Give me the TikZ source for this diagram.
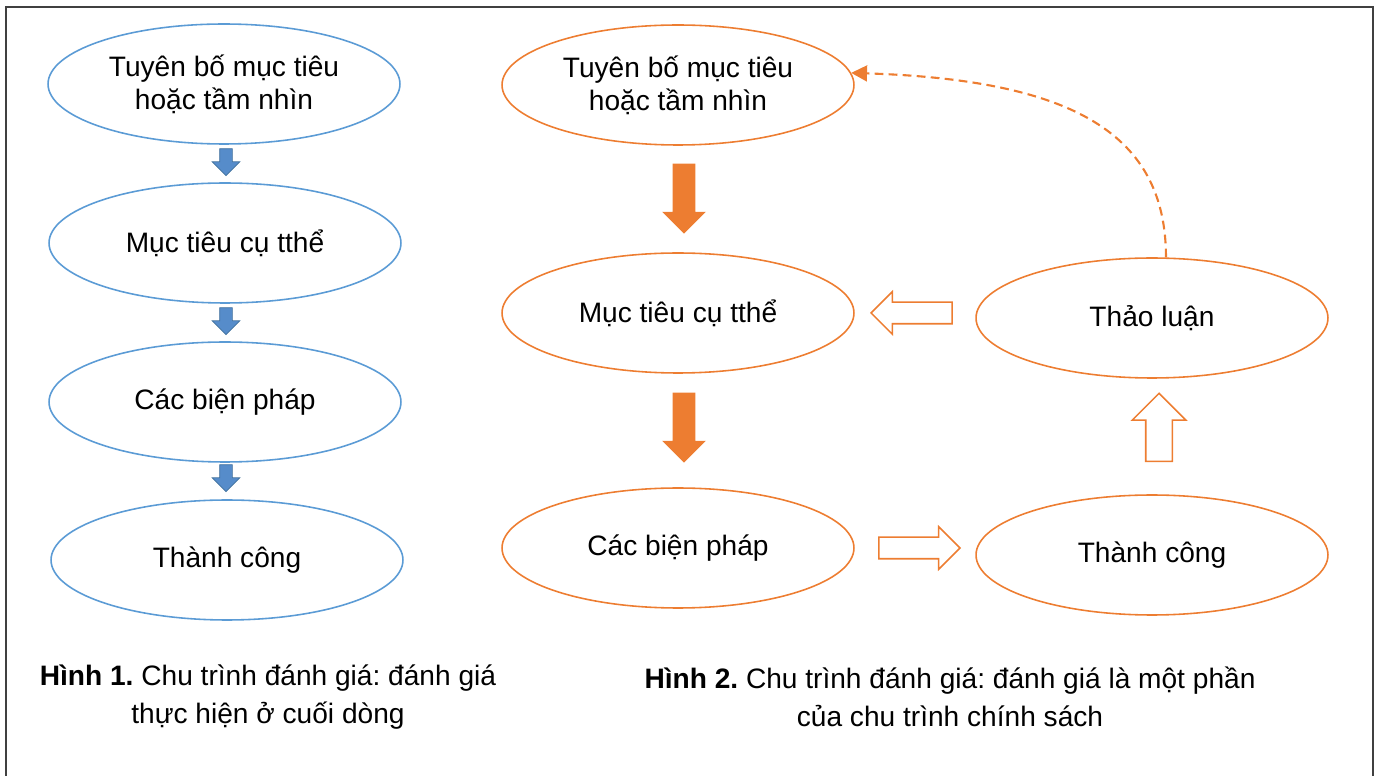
\documentclass[tikz,border=0pt]{standalone}
\usepackage{fontspec}
\setmainfont{Liberation Sans}
\frenchspacing
\usepackage{xcolor}
\usepackage{tikz}
\usetikzlibrary{shapes.geometric, shapes.arrows, arrows.meta, positioning}

\definecolor{ellblue}{RGB}{91,155,213}
\definecolor{arrblue}{RGB}{86,140,202}
\definecolor{arrblueline}{RGB}{65,113,156}
\definecolor{ellorange}{RGB}{237,125,49}
\definecolor{framegray}{RGB}{64,64,64}

\begin{document}
\begin{tikzpicture}[x=0.02cm, y=-0.02cm,
  ell/.style={ellipse, line width=0.9pt, minimum width=7.04cm, minimum height=2.4cm, inner sep=0pt, align=center, font=\fontsize{16}{18.7}\selectfont},
  blueell/.style={ell, draw=ellblue},
  orangeell/.style={ell, draw=ellorange},
  bluearrow/.style={single arrow, rotate=-90, inner xsep=0pt, inner ysep=0.12cm, minimum width=0pt, minimum height=0.54cm, single arrow head extend=0.15cm, fill=arrblue, draw=arrblueline, line width=0.4pt},
  fullarrow/.style={single arrow, rotate=-90, inner xsep=0pt, inner ysep=0.22cm, minimum width=0pt, minimum height=1.4cm, single arrow head extend=0.21cm, fill=ellorange},
  hollowarrow/.style={single arrow, inner xsep=0pt, inner ysep=0.2cm, minimum width=0pt, minimum height=1.62cm, single arrow head extend=0.21cm, fill=white, draw=ellorange, line width=0.9pt},
  dashline/.style={ellorange, line width=1.2pt, dash pattern=on 5pt off 3pt, -{Triangle[length=9pt, width=9pt]}},
  caption/.style={align=center, font=\fontsize{16}{21.5}\selectfont}
]
  \useasboundingbox (0,0) rectangle (1377,776);

  % Frame
  \draw[framegray, line width=1.2pt] (6,776) -- (6,7) -- (1373,7) -- (1373,776);

  % Left column
  \foreach \n/\x/\y/\txt in {1/224/84/{Tuyên bố mục tiêu\\hoặc tầm nhìn}, 2/225/243/{Mục tiêu cụ tthể}, 3/225/402/{Các biện pháp}, 4/227/560/{Thành công}} {
    \node[blueell] (l\n) at (\x,\y) {\txt};
  }
  \foreach \n/\y in {1/159, 2/318, 3/475} {
    \node[bluearrow] (down\n) at (226,\y) {};
  }

  % Right column
  \node[orangeell] (r1) at (678,85) {Tuyên bố mục tiêu\\hoặc tầm nhìn};
  \node[orangeell] (r2) at (678,313) {Mục tiêu cụ tthể};
  \node[orangeell] (r3) at (678,548) {Các biện pháp};
  \node[orangeell] (thao) at (1152,318) {Thảo luận};
  \node[orangeell] (thanh) at (1152,555) {Thành công};

  \node[fullarrow] (go1) at (684,193) {};
  \node[fullarrow] (go2) at (684,422) {};
  \node[hollowarrow, rotate=180] (back) at (917,313) {};
  \node[hollowarrow] (fwd) at (914,548) {};
  \node[hollowarrow, rotate=90, inner ysep=0.25cm, minimum height=1.36cm, single arrow head extend=0.27cm] (up) at (1159,434) {};

  \draw[dashline] (thao.77) .. controls (1166,135) and (1075,80) .. (r1.4);

  % Captions
  \node[caption] (cap1) at (268,697) {\textbf{Hình 1.} Chu trình đánh giá: đánh giá\\thực hiện ở cuối dòng};
  \node[caption] (cap2) at (950,697) {\textbf{Hình 2.} Chu trình đánh giá: đánh giá là một phần\\của chu trình chính sách};
\end{tikzpicture}
\end{document}
